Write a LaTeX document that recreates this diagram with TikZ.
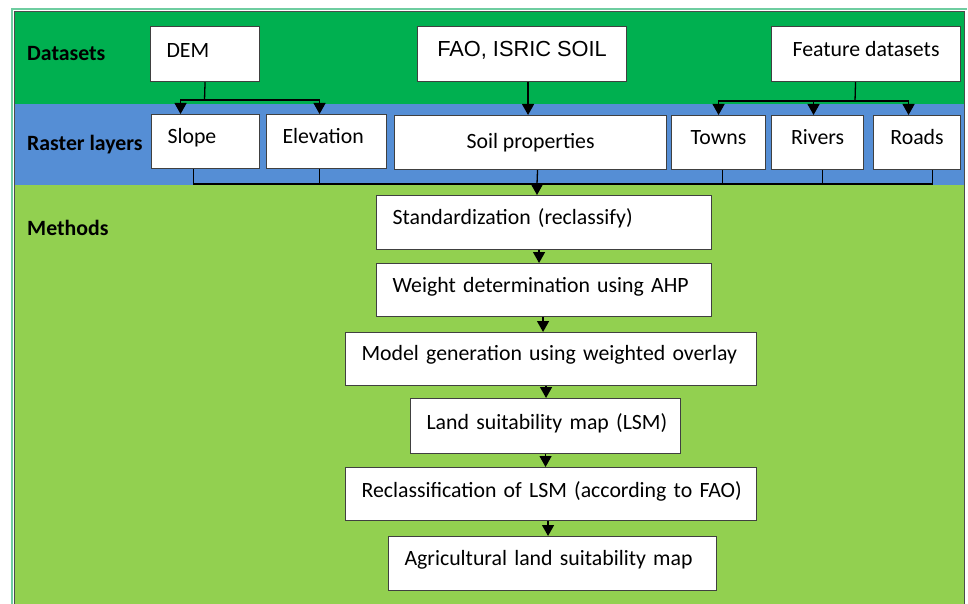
\documentclass[tikz,border=0pt]{standalone}
\usepackage{fontspec}
\setmainfont{Carlito}
\newfontfamily\faofont{Liberation Sans}
\usetikzlibrary{arrows.meta}

\definecolor{dsgreen}{RGB}{0,176,80}
\definecolor{rlblue}{RGB}{85,142,213}
\definecolor{mtgreen}{RGB}{146,208,80}
\definecolor{rimteal}{RGB}{110,205,160}

\begin{document}
\begin{tikzpicture}[x=1pt, y=-1pt,
    font=\fontsize{21.8}{26}\selectfont,
    box/.style={draw=black!75, line width=1.1pt, fill=white, anchor=north west,
      inner ysep=0pt, text height=29pt, text depth=25pt},
    % left-set text on one line, the box keeps its given width
    lbox/.style={box, align=left, inner xsep=16pt,
      execute at begin node=\hbox\bgroup, execute at end node=\egroup},
    cbox/.style={box, inner xsep=0pt},
    band/.style={font=\fontsize{21.8}{26}\selectfont\bfseries, anchor=base west, inner sep=0pt},
    link/.style={line width=1.3pt},
    arr/.style={link, -{Triangle[length=11pt,width=12pt]}}]
    \useasboundingbox (0,0) rectangle (968,604);

    % colour bands and frame
    \fill[dsgreen] (14,11) rectangle (965,104);
    \fill[rlblue] (14,104) rectangle (965,185);
    \fill[mtgreen] (14,185) rectangle (965,604);
    \draw[rimteal, line width=2pt] (12,604) -- (12,9) -- (967,9);
    \draw[black!70, line width=1.5pt] (14.5,604) -- (14.5,11.5) -- (964.5,11.5) -- (964.5,604);

    % band titles
    \node[band] (dslab) at (27,61) {Datasets};
    \node[band] (rllab) at (27,151) {Raster layers};
    \node[band] (mtlab) at (27,235) {Methods};

    % datasets
    \node[lbox, text width=77pt, text height=31pt, text depth=24pt] (dem) at (150,26) {DEM};
    \node[cbox, minimum width=209pt, text height=30pt, text depth=25pt,
      font=\faofont\fontsize{21.8}{26}\selectfont] (fao) at (417,26) {FAO, ISRIC SOIL};
    \node[cbox, minimum width=189pt, text height=30pt, text depth=25pt] (feat) at (771,26) {Feature datasets};

    % raster layers
    \node[lbox, text width=76pt] (slope) at (151,114) {Slope};
    \node[lbox, text width=88pt] (elev) at (266,114) {Elevation};
    \node[cbox, minimum width=272pt, text height=33pt, text depth=21pt] (soil) at (394,115) {Soil properties};
    \node[cbox, minimum width=94pt] (towns) at (671,115) {Towns};
    \node[cbox, minimum width=92pt] (rivers) at (771,115) {Rivers};
    \node[cbox, minimum width=87pt] (roads) at (873,115) {Roads};

    % methods
    \node[lbox, text width=303pt] (std) at (376,195) {Standardization (reclassify)};
    \node[lbox, text width=303pt, text depth=24pt] (wgt) at (376,263) {Weight determination using AHP};
    \node[lbox, text width=379pt, text height=28pt] (mdl) at (345,332) {Model generation using weighted overlay};
    \node[lbox, text width=238pt, text height=31pt, text depth=24pt] (lsm) at (410,398) {Land suitability map (LSM)};
    \node[lbox, text width=379pt, text height=30pt, text depth=23pt] (rcl) at (345,467) {Reclassification of LSM (according to FAO)};
    \node[lbox, text width=296pt] (agr) at (388,536) {Agricultural land suitability map};

    % datasets -> raster layers
    \coordinate (demj) at (204.5,100);
    \draw[link] (dem.south) -- (demj);
    \draw[arr] (demj) -| ([xshift=-25pt]slope.north);
    \draw[arr] (demj) -| ([xshift=-7pt]elev.north);
    \draw[arr] ([xshift=6pt]fao.south) -- ([xshift=6pt]fao.south |- soil.north);
    \coordinate (featj) at (855,101);
    \draw[link] ([xshift=-10.5pt]feat.south) -- (featj);
    \draw[arr] (featj) -| (towns.north);
    \draw[arr] (featj) -| ([xshift=-4pt]rivers.north);
    \draw[arr] (featj) -| ([xshift=-8.5pt]roads.north);

    % raster layers -> methods
    \coordinate (rj) at (537,184);
    \draw[link] ([xshift=-12pt]slope.south) |- (rj);
    \draw[link] ([xshift=-7pt]elev.south) |- (rj);
    \draw[link] ([xshift=7pt]soil.south) -- (rj);
    \draw[link] ([xshift=4pt]towns.south) |- (rj);
    \draw[link] ([xshift=5pt]rivers.south) |- (rj);
    \draw[link] ([xshift=15.5pt]roads.south) |- (rj);
    \draw[arr] (rj) -- (rj |- std.north);

    % method chain
    \draw[arr] ([xshift=-5pt]std.south) -- ([xshift=-5pt]std.south |- wgt.north);
    \draw[arr] ([xshift=-1pt]wgt.south) -- ([xshift=-1pt]wgt.south |- mdl.north);
    \draw[arr] ([xshift=-5pt]mdl.south) -- ([xshift=-5pt]mdl.south |- lsm.north);
    \draw[arr] (lsm.south) -- (lsm.south |- rcl.north);
    \draw[arr] ([xshift=-3pt]rcl.south) -- ([xshift=-3pt]rcl.south |- agr.north);
  \end{tikzpicture}
\end{document}
